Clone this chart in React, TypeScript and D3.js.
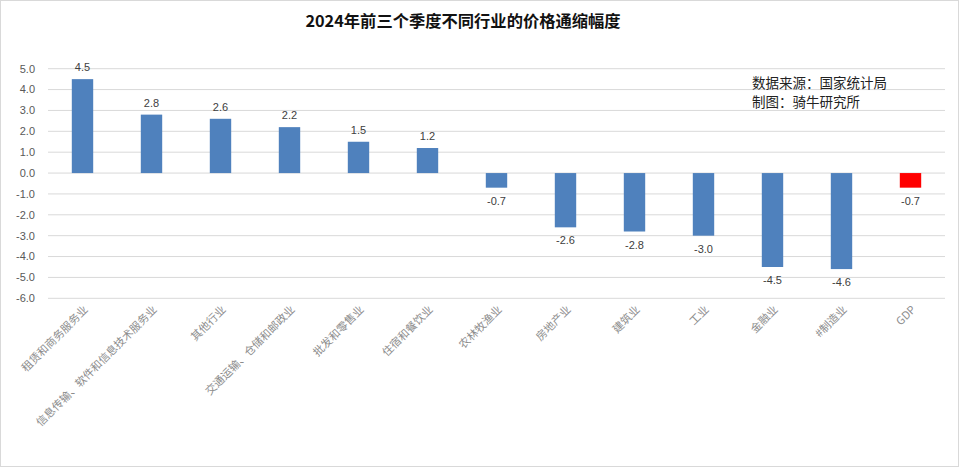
import * as d3 from 'd3';

const categories = [
  '租赁和商务服务业',
  '信息传输、软件和信息技术服务业',
  '其他行业',
  '交通运输、仓储和邮政业',
  '批发和零售业',
  '住宿和餐饮业',
  '农林牧渔业',
  '房地产业',
  '建筑业',
  '工业',
  '金融业',
  '#制造业',
  'GDP',
];
const values = [4.5, 2.8, 2.6, 2.2, 1.5, 1.2, -0.7, -2.6, -2.8, -3.0, -4.5, -4.6, -0.7];
const yTicks = [5, 4, 3, 2, 1, 0, -1, -2, -3, -4, -5, -6];
const title = '2024年前三个季度不同行业的价格通缩幅度';
const notes = ['数据来源：国家统计局', '制图：骑牛研究所'];

const width = 960;
const height = 469;
const cjk = '"Noto Sans CJK SC", "Noto Sans", sans-serif';

export default function App() {
  const x = d3.scaleBand<string>().domain(categories).range([48, 945]).paddingInner(0.69).paddingOuter(0.345);
  const y = d3.scaleLinear().domain([-6, 5]).range([298.3, 68.7]);

  return (
    <svg
      width={width}
      height={height}
      style={{ position: 'absolute', left: 0, top: 0, background: '#fff' }}
    >
      <rect x={0.5} y={0.5} width={width - 2} height={height - 3} fill="#fff" stroke="#d9d9d9" />
      <text
        x={463}
        y={27}
        textAnchor="middle"
        fontSize={16.3}
        fontWeight="bold"
        fontFamily={cjk}
        fill="#111"
      >
        {title}
      </text>

      {yTicks.map((t) => (
        <g key={t}>
          <line x1={48} x2={945} y1={y(t)} y2={y(t)} stroke="#d9d9d9" strokeWidth={1} />
          <text
            x={35}
            y={y(t)}
            dy="0.35em"
            textAnchor="end"
            fontSize={11}
            fontFamily="'Liberation Sans', Arial, sans-serif"
            fill="#595959"
          >
            {t.toFixed(1)}
          </text>
        </g>
      ))}

      {categories.map((c, i) => {
        const v = values[i];
        const bx = x(c) ?? 0;
        const top = y(Math.max(0, v));
        const h = Math.abs(y(v) - y(0));
        const cx = bx + x.bandwidth() / 2;
        return (
          <g key={c}>
            <rect
              x={bx}
              y={top}
              width={x.bandwidth()}
              height={h}
              fill={c === 'GDP' ? '#ff0000' : '#4f81bd'}
            />
            <text
              x={cx}
              y={v >= 0 ? y(v) - 8 : y(v) + 17}
              textAnchor="middle"
              fontSize={11}
              fontFamily="'Liberation Sans', Arial, sans-serif"
              fill="#404040"
            >
              {v.toFixed(1)}
            </text>
            <text
              transform={`translate(${cx + 6},${y(-6) + 12}) rotate(-45)`}
              textAnchor="end"
              fontSize={11}
              fontFamily={cjk}
              fill="#8c8c8c"
            >
              {c}
            </text>
          </g>
        );
      })}

      {notes.map((n, i) => (
        <text key={n} x={752} y={88 + i * 19} fontSize={13.5} fontFamily={cjk} fill="#222">
          {n}
        </text>
      ))}
    </svg>
  );
}
